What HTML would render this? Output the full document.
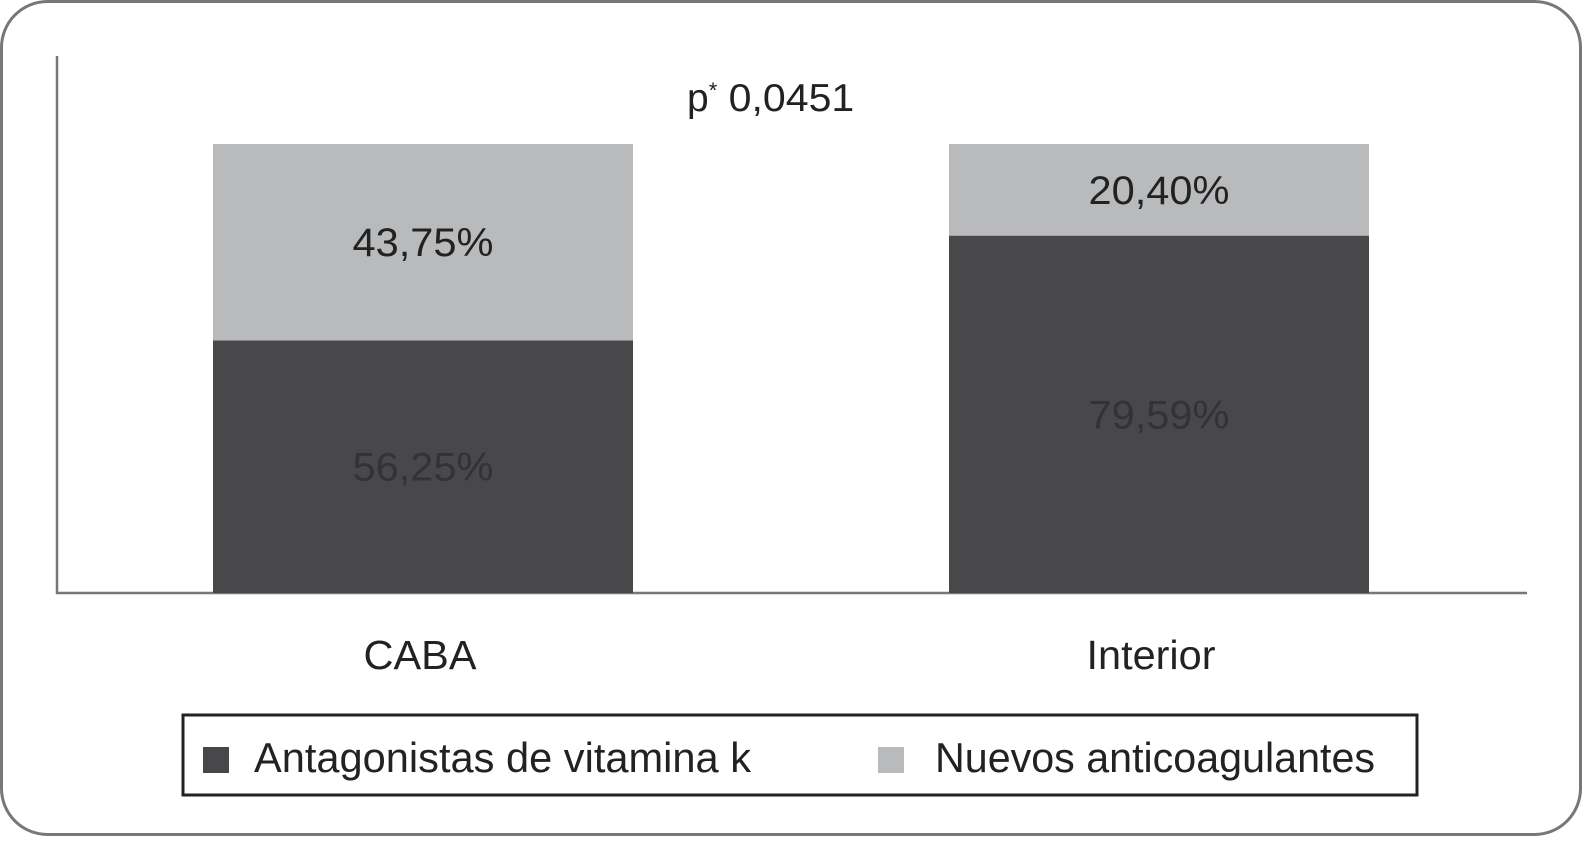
<!DOCTYPE html>
<html><head><meta charset="utf-8"><style>
body{margin:0;background:#fff;}
svg text{font-family:"Liberation Sans",sans-serif;}
</style></head><body>
<svg width="1583" height="837" viewBox="0 0 1583 837" xmlns="http://www.w3.org/2000/svg">
<rect x="1.5" y="1.5" width="1579" height="833" rx="46" fill="#fff" stroke="#777" stroke-width="3"/>
<line x1="57" y1="56" x2="57" y2="594" stroke="#777" stroke-width="2.5"/>
<line x1="56" y1="593" x2="1527" y2="593" stroke="#777" stroke-width="2.5"/>
<text x="687" y="111" font-size="39" fill="#222">p<tspan font-size="22" dy="-13">*</tspan><tspan dy="13" textLength="137" lengthAdjust="spacingAndGlyphs"> 0,0451</tspan></text>
<g id="bars"></g>
<rect x="183" y="715" width="1234" height="80" fill="none" stroke="#222" stroke-width="3"/>
<rect x="203" y="747" width="26" height="26" fill="#48484b"/>
<text x="254" y="772" font-size="42" fill="#222" textLength="497" lengthAdjust="spacingAndGlyphs">Antagonistas de vitamina k</text>
<rect x="878" y="747" width="26" height="26" fill="#b9babc"/>
<text x="935" y="772" font-size="42" fill="#222" textLength="440" lengthAdjust="spacingAndGlyphs">Nuevos anticoagulantes</text>
</svg>
<script>
const categories=["CABA","Interior"];
const vka=[56.25,79.59];
const noac=[43.75,20.40];
const vkaLabels=["56,25%","79,59%"];
const noacLabels=["43,75%","20,40%"];
const NS="http://www.w3.org/2000/svg";
const y=v=>593-v*4.49;
const xLeft=i=>213+i*736, bw=420;
const g=document.getElementById('bars');
function mk(t,a){const e=document.createElementNS(NS,t);for(const k in a)e.setAttribute(k,a[k]);g.appendChild(e);return e;}
categories.forEach((c,i)=>{
  const x=xLeft(i);
  let r=mk('rect',{x:x,y:y(vka[i]),width:bw,height:593-y(vka[i]),fill:'#48484b'});
  
  
  r=mk('rect',{x:x,y:y(vka[i]+noac[i]),width:bw,height:y(vka[i])-y(vka[i]+noac[i]),fill:'#b9babc'});
  
  
  const lw=141;
  let t=mk('text',{x:x+bw/2-lw/2,y:(y(vka[i])+593)/2+14,'font-size':40,fill:'#333335',textLength:lw,lengthAdjust:'spacingAndGlyphs'});
  t.textContent=vkaLabels[i];
  
  
  t=mk('text',{x:x+bw/2-lw/2,y:(y(vka[i])+y(vka[i]+noac[i]))/2+14,'font-size':40,fill:'#222',textLength:lw,lengthAdjust:'spacingAndGlyphs'});
  t.textContent=noacLabels[i];
  
  
  const cw=i?129:113;
  t=mk('text',{x:x+bw/2-(i?8:3)-cw/2,y:669,'font-size':41,fill:'#222',textLength:cw,lengthAdjust:'spacingAndGlyphs'});
  t.textContent=c;
  
  
});
</script>
</body></html>
